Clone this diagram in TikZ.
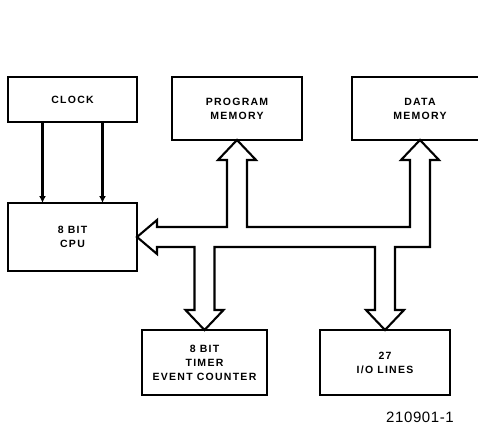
\documentclass[tikz,border=0pt]{standalone}
\usepackage{fontspec}
\setmainfont{Liberation Sans}
\usepackage{tikz}
\usetikzlibrary{positioning,arrows.meta}

\begin{document}
\begin{tikzpicture}[x=1pt, y=1pt, node distance=30pt]
	% Define styles for boxes and lines
	\tikzset{
		box/.style={
			rectangle,
			draw,
			line width=2.8pt,
			outer sep=0pt,
			inner sep=0pt,
			minimum height=63pt,
			align=center,
			font=\fontsize{10.5}{14}\selectfont\bfseries\addfontfeature{LetterSpace=12}
		},
		sig/.style={
			line width=2.1pt,
			-{Latex[length=7pt,width=7pt]}
		},
		bus/.style={
			line width=2.1pt,
			line join=miter
		}
	}
	\useasboundingbox (0,0) rectangle (478,-425);
	\clip (0,0) rectangle (478,-425);

	\node[box, minimum width=129pt, minimum height=45pt] (clock) at (72.5,-99.5) {CLOCK};
	\node[box, minimum width=129pt, minimum height=68pt, below=81pt of clock] (cpu) {8 BIT\\CPU};
	\node[box, minimum width=130pt, below right=0pt and 35pt of clock.north east] (prog) {PROGRAM\\MEMORY};
	\node[box, minimum width=136pt, below right=0pt and 50pt of prog.north east] (data) {DATA\\MEMORY};

	% Nodes below the bus
	\node[box, minimum width=125pt, minimum height=65pt] (timer) at (204.5,-362.5) {8 BIT\\TIMER\\EVENT COUNTER};
	\node[box, minimum width=130pt, minimum height=65pt, right=53pt of timer] (io) {27\\I/O LINES};

	\node[font=\fontsize{15}{17}\selectfont\addfontfeature{LetterSpace=4}] (fignum) at (420,-417) {210901-1};

	% clock to cpu
	\draw[sig] ([xshift=-30pt]clock.south) -- ([xshift=-30pt]cpu.north);
	\draw[sig] ([xshift=30pt]clock.south) -- ([xshift=30pt]cpu.north);

	% junctions on the bus centre line
	\coordinate (jP) at (prog.south |- cpu.east);
	\coordinate (jD) at (data.south |- cpu.east);
	\coordinate (jT) at (timer.north |- cpu.east);
	\coordinate (jI) at (io.north |- cpu.east);

	% internal bus
	\draw[bus] (cpu.east) -- ([xshift=20pt,yshift=17pt]cpu.east) -- ([xshift=20pt,yshift=10pt]cpu.east)
		-- ([xshift=-10pt,yshift=10pt]jP) -- ([xshift=-10pt,yshift=-20pt]prog.south) -- ([xshift=-19pt,yshift=-20pt]prog.south) -- (prog.south)
		-- ([xshift=19pt,yshift=-20pt]prog.south) -- ([xshift=10pt,yshift=-20pt]prog.south) -- ([xshift=10pt,yshift=10pt]jP)
		-- ([xshift=-10pt,yshift=10pt]jD) -- ([xshift=-10pt,yshift=-20pt]data.south) -- ([xshift=-19pt,yshift=-20pt]data.south) -- (data.south)
		-- ([xshift=19pt,yshift=-20pt]data.south) -- ([xshift=10pt,yshift=-20pt]data.south) -- ([xshift=10pt,yshift=-10pt]jD)
		-- ([xshift=10pt,yshift=-10pt]jI) -- ([xshift=10pt,yshift=20pt]io.north) -- ([xshift=19pt,yshift=20pt]io.north) -- (io.north)
		-- ([xshift=-19pt,yshift=20pt]io.north) -- ([xshift=-10pt,yshift=20pt]io.north) -- ([xshift=-10pt,yshift=-10pt]jI)
		-- ([xshift=10pt,yshift=-10pt]jT) -- ([xshift=10pt,yshift=20pt]timer.north) -- ([xshift=19pt,yshift=20pt]timer.north) -- (timer.north)
		-- ([xshift=-19pt,yshift=20pt]timer.north) -- ([xshift=-10pt,yshift=20pt]timer.north) -- ([xshift=-10pt,yshift=-10pt]jT)
		-- ([xshift=20pt,yshift=-10pt]cpu.east) -- ([xshift=20pt,yshift=-17pt]cpu.east) -- cycle;
\end{tikzpicture}
\end{document}
